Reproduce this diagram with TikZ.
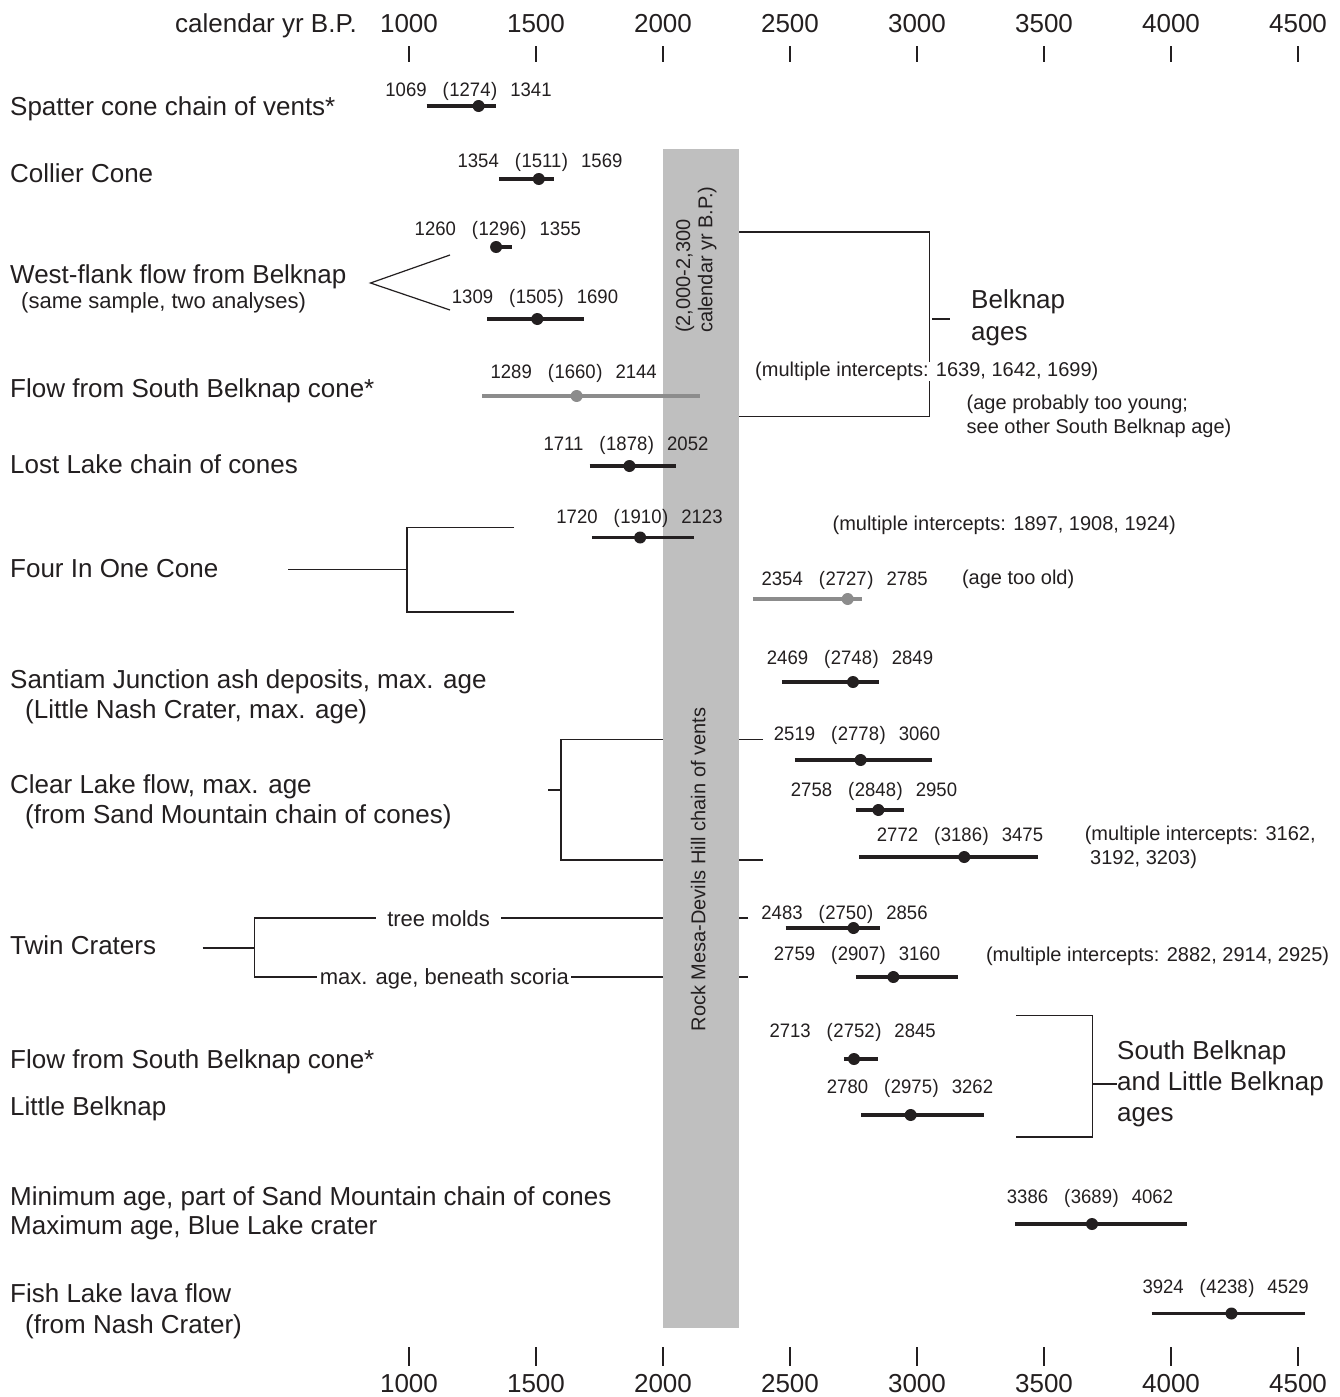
\documentclass[tikz,border=0pt]{standalone}
\usepackage{fontspec}
\setmainfont{Liberation Sans}
\newfontfamily\numfont[FakeStretch=0.95]{Liberation Sans}
\definecolor{bandgray}{RGB}{191,191,191}
\definecolor{bargray}{RGB}{140,140,140}
\definecolor{inkc}{RGB}{35,31,32}
\newcommand\rng[3]{#1\hspace{16pt}(\kern0.6pt#2\kern0.6pt)\hspace{13pt}#3}
\newcommand\yx[1]{409+(#1-1000)*0.254}
\newcommand\agebar[6]{%
  \coordinate (#1l) at ({\yx{#3}},#2);
  \coordinate (#1r) at ({\yx{#5}},#2);
  \draw[barline,#6] (#1l) -- (#1r);
  \node[dot,#6] (#1d) at ({\yx{#4}},#2) {};}
\begin{document}
\begin{tikzpicture}[x=1pt,y=-1pt,
  bline/.style={line width=1.2pt, draw=inkc},
  tickl/.style={line width=1.3pt, draw=inkc},
  barline/.style={line width=3.5pt},
  blk/.style={color=inkc},
  gry/.style={color=bargray},
  dot/.style={circle, fill, inner sep=0pt, minimum size=12pt},
  axlab/.style={font={\fontsize{26}{31}\selectfont}, anchor=base, inner sep=0pt, text=inkc},
  mainlab/.style={font={\fontsize{26}{31}\selectfont}, anchor=base west, inner sep=0pt, text=inkc},
  sublab/.style={font={\fontsize{22}{26}\selectfont}, anchor=base west, inner sep=0pt, text=inkc},
  annot/.style={font={\fontsize{20}{24}\selectfont}, anchor=base west, inner sep=0pt, text=inkc},
  numlab/.style={font={\fontsize{19.5}{24}\numfont}, anchor=base, inner sep=0pt, text=inkc},
  brlab/.style={font={\fontsize{22}{26}\selectfont}, anchor=base, fill=white, inner ysep=1pt, text=inkc},
  bandtext/.style={font={\fontsize{20}{24}\selectfont}, rotate=90, inner sep=0pt, text=inkc},
]
\useasboundingbox[fill=white] (0,0) rectangle (1340,1397);

% ---------- axes ----------
\node[axlab, anchor=base east] (axtitle) at (357,32.5) {calendar yr B.P.};
\foreach \v [count=\i] in {1000,1500,...,4500}{
  \node[axlab] (tl\i) at ({\yx{\v}},32.5) {\v};
  \coordinate (tta\i) at ({\yx{\v}},46.5);
  \coordinate (ttb\i) at ({\yx{\v}},62.5);
  \draw[tickl] (tta\i) -- (ttb\i);
  \node[axlab] (bl\i) at ({\yx{\v}},1392) {\v};
  \coordinate (bta\i) at ({\yx{\v}},1347);
  \coordinate (btb\i) at ({\yx{\v}},1366);
  \draw[tickl] (bta\i) -- (btb\i);
}

% ---------- brackets (under the band) ----------
% West-flank fork
\coordinate (wfa) at (370.5,283);
\coordinate (wfu) at (450,255);
\coordinate (wfd) at (450,310);
\draw[bline] (wfu) -- (wfa) -- (wfd);
% Four In One Cone
\coordinate (fs0) at (288,569.5);
\coordinate (fs1) at (407,569.5);
\coordinate (ft0) at (514,527.5);
\coordinate (ft1) at (407,527.5);
\coordinate (fb1) at (407,612);
\coordinate (fb0) at (514,612);
\draw[bline] (fs0) -- (fs1);
\draw[bline] (ft0) -- (ft1) -- (fb1) -- (fb0);
% Belknap ages
\coordinate (bk0) at (700,232);
\coordinate (bk1) at (929.5,232);
\coordinate (bk2) at (929.5,416.5);
\coordinate (bk3) at (700,416.5);
\coordinate (bks0) at (932,319);
\coordinate (bks1) at (950,319);
\draw[bline] (bk0) -- (bk1) -- (bk2) -- (bk3);
\draw[bline] (bks0) -- (bks1);
% Clear Lake
\coordinate (cl0) at (763,739.5);
\coordinate (cl1) at (561,739.5);
\coordinate (cl2) at (561,860);
\coordinate (cl3) at (763,860);
\coordinate (cls0) at (548,790);
\coordinate (cls1) at (561,790);
\draw[bline] (cl0) -- (cl1) -- (cl2) -- (cl3);
\draw[bline] (cls0) -- (cls1);
% Twin Craters
\coordinate (tc0) at (202.5,948);
\coordinate (tc1) at (254.7,948);
\coordinate (tca) at (748,918);
\coordinate (tcb) at (254.7,918);
\coordinate (tcc) at (254.7,977);
\coordinate (tcd) at (748,977);
\draw[bline] (tc0) -- (tc1);
\draw[bline] (tca) -- (tcb) -- (tcc) -- (tcd);
\node[brlab, inner xsep=11pt] (treemolds) at (438.6,926) {tree molds};
\node[brlab, inner xsep=2.5pt] (beneath) at (444.4,984.5) {max. age, beneath scoria};
% South Belknap and Little Belknap
\coordinate (sb0) at (1016,1015.5);
\coordinate (sb1) at (1092.6,1015.5);
\coordinate (sb2) at (1092.6,1137);
\coordinate (sb3) at (1016,1137);
\coordinate (sbm) at (1092.6,1084);
\coordinate (sbs) at (1117,1084);
\draw[bline] (sb0) -- (sb1) -- (sb2) -- (sb3);
\draw[bline] (sbm) -- (sbs);

% ---------- band ----------
\fill[bandgray] (663,149) rectangle (739.2,1328);
\node[bandtext, anchor=base west] (bandA) at (690,333) {(2,000-2,300};
\node[bandtext, anchor=base west] (bandB) at (712.3,333) {calendar yr B.P.)};
\node[bandtext, anchor=base] (bandC) at (705.3,869.5) {Rock Mesa-Devils Hill chain of vents};

% ---------- age bars ----------
\agebar{b1}{106}{1069}{1274}{1341}{blk}
\agebar{b2}{179}{1354}{1511}{1569}{blk}
\agebar{b3}{247}{1325}{1343}{1404}{blk}
\agebar{b4}{319}{1309}{1505}{1690}{blk}
\agebar{b5}{396}{1289}{1660}{2144}{gry}
\agebar{b6}{466}{1711}{1868}{2052}{blk}
\agebar{b7}{537.5}{1720}{1910}{2123}{blk}
\agebar{b8}{599}{2354}{2727}{2785}{gry}
\agebar{b9}{682}{2469}{2748}{2849}{blk}
\agebar{b10}{760}{2519}{2778}{3060}{blk}
\agebar{b11}{810}{2758}{2848}{2950}{blk}
\agebar{b12}{857}{2772}{3186}{3475}{blk}
\agebar{b13}{928}{2483}{2750}{2856}{blk}
\agebar{b14}{977}{2759}{2907}{3160}{blk}
\agebar{b15}{1059}{2713}{2752}{2845}{blk}
\agebar{b16}{1115}{2780}{2975}{3262}{blk}
\agebar{b17}{1224}{3386}{3689}{4062}{blk}
\agebar{b18}{1313.5}{3924}{4238}{4529}{blk}

% ---------- range labels ----------
\node[numlab] (n1) at (468.5,96) {\rng{1069}{1274}{1341}};
\node[numlab] (n2) at (540,167) {\rng{1354}{1511}{1569}};
\node[numlab] (n3) at (497.8,235) {\rng{1260}{1296}{1355}};
\node[numlab] (n4) at (535,303.3) {\rng{1309}{1505}{1690}};
\node[numlab] (n5) at (573.7,378.3) {\rng{1289}{1660}{2144}};
\node[numlab] (n6) at (626,450.7) {\rng{1711}{1878}{2052}};
\node[numlab] (n7) at (639.5,523.3) {\rng{1720}{1910}{2123}};
\node[numlab] (n8) at (844.7,585) {\rng{2354}{2727}{2785}};
\node[numlab] (n9) at (850,664) {\rng{2469}{2748}{2849}};
\node[numlab] (n10) at (857,740.7) {\rng{2519}{2778}{3060}};
\node[numlab] (n11) at (874,796) {\rng{2758}{2848}{2950}};
\node[numlab] (n12) at (960,841.7) {\rng{2772}{3186}{3475}};
\node[numlab] (n13) at (844.5,919.3) {\rng{2483}{2750}{2856}};
\node[numlab] (n14) at (857,960.7) {\rng{2759}{2907}{3160}};
\node[numlab] (n15) at (852.6,1037.3) {\rng{2713}{2752}{2845}};
\node[numlab] (n16) at (910,1093.3) {\rng{2780}{2975}{3262}};
\node[numlab] (n17) at (1090,1203.3) {\rng{3386}{3689}{4062}};
\node[numlab] (n18) at (1225.6,1293.3) {\rng{3924}{4238}{4529}};

% ---------- annotations ----------
\node[annot, fill=white, inner xsep=1pt, inner ysep=0pt] (mi1) at (754,376.7) {(multiple intercepts: 1639, 1642, 1699)};
\node[annot] (young1) at (966.5,409.2) {(age probably too young;};
\node[annot] (young2) at (966.5,433) {see other South Belknap age)};
\node[annot] (mi2) at (832.4,530) {(multiple intercepts: 1897, 1908, 1924)};
\node[annot] (old) at (961.8,584) {(age too old)};
\node[annot] (mi3a) at (1084.6,840.5) {(multiple intercepts: 3162,};
\node[annot] (mi3b) at (1090,864.5) {3192, 3203)};
\node[annot] (mi4) at (985.8,961) {(multiple intercepts: 2882, 2914, 2925)};

\node[mainlab] (bka) at (971,308) {Belknap};
\node[mainlab] (bkb) at (971,340) {ages};
\node[mainlab] (sba) at (1117,1059.3) {South Belknap};
\node[mainlab] (sbb) at (1117,1090) {and Little Belknap};
\node[mainlab] (sbc) at (1117,1121.7) {ages};

% ---------- row labels ----------
\node[mainlab] (r1) at (10,115) {Spatter cone chain of vents*};
\node[mainlab] (r2) at (10,182) {Collier Cone};
\node[mainlab] (r3) at (10,283.3) {West-flank flow from Belknap};
\node[sublab] (r3b) at (21,308.5) {(same sample, two analyses)};
\node[mainlab] (r4) at (10,397) {Flow from South Belknap cone*};
\node[mainlab] (r5) at (10,473) {Lost Lake chain of cones};
\node[mainlab] (r6) at (10,577) {Four In One Cone};
\node[mainlab] (r7) at (10,688) {Santiam Junction ash deposits, max. age};
\node[mainlab] (r7b) at (25,718.5) {(Little Nash Crater, max. age)};
\node[mainlab] (r8) at (10,793) {Clear Lake flow, max. age};
\node[mainlab] (r8b) at (25,823) {(from Sand Mountain chain of cones)};
\node[mainlab] (r9) at (10,954) {Twin Craters};
\node[mainlab] (r10) at (10,1068) {Flow from South Belknap cone*};
\node[mainlab] (r11) at (10,1115) {Little Belknap};
\node[mainlab] (r12) at (10,1205) {Minimum age, part of Sand Mountain chain of cones};
\node[mainlab] (r12b) at (10,1234) {Maximum age, Blue Lake crater};
\node[mainlab] (r13) at (10,1302) {Fish Lake lava flow};
\node[mainlab] (r13b) at (25,1333) {(from Nash Crater)};
\end{tikzpicture}
\end{document}
